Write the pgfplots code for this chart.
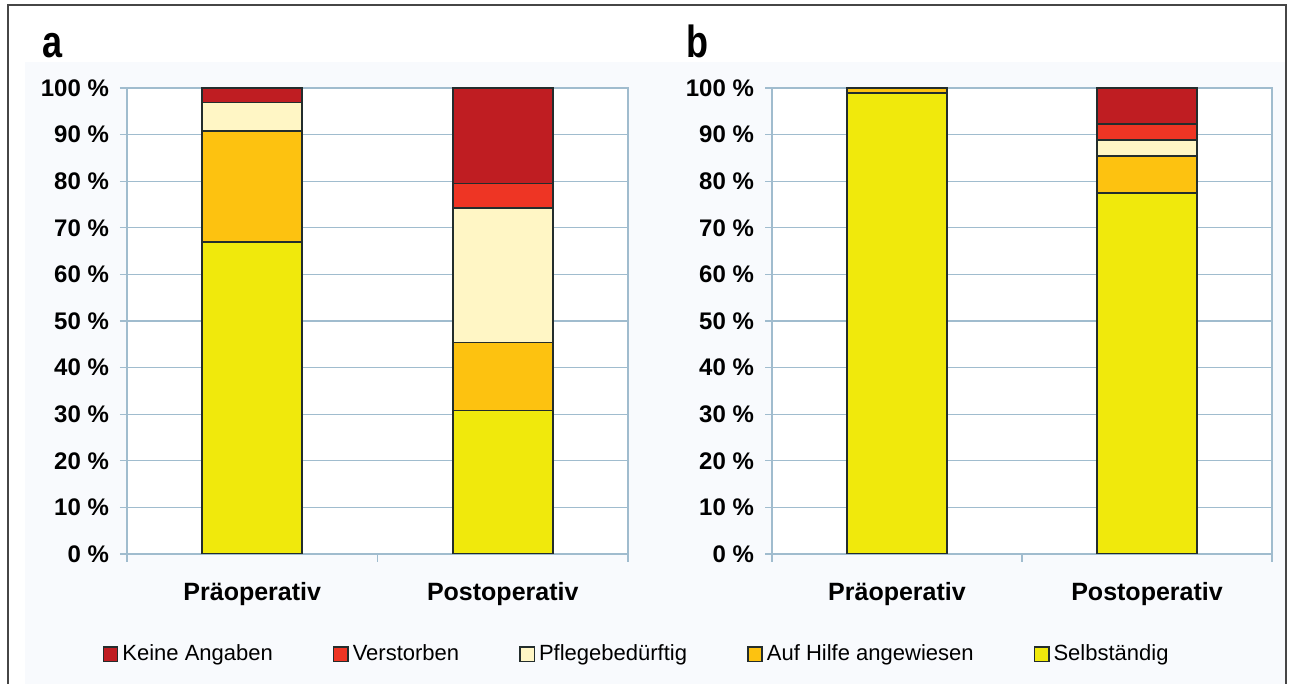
\documentclass[border=0pt]{standalone}
\usepackage{fontspec}
\setmainfont{Liberation Sans}
\usepackage{graphicx}
\usepackage{pgfplots}
\pgfplotsset{compat=1.18}
\definecolor{keine}{RGB}{191,29,34}
\definecolor{verst}{RGB}{238,53,36}
\definecolor{pflege}{RGB}{255,246,197}
\definecolor{auf}{RGB}{253,194,16}
\definecolor{selbst}{RGB}{240,233,12}
\definecolor{gridc}{RGB}{160,188,206}
\definecolor{edgec}{RGB}{35,45,45}
\definecolor{bgc}{RGB}{248,250,253}
\definecolor{framec}{RGB}{70,70,70}
\pgfplotsset{
  panel/.style={
    scale only axis,
    width=250.5pt, height=233pt,
    anchor=south west,
    ybar stacked,
    bar width=50pt,
    xmin=-0.5, xmax=1.5,
    ymin=0, ymax=100,
    xtick={0,1},
    xticklabels={Präoperativ,Postoperativ},
    minor xtick={-0.5,0.5,1.5},
    ytick={0,10,...,100},
    yticklabels={0 \%,10 \%,20 \%,30 \%,40 \%,50 \%,60 \%,70 \%,80 \%,90 \%,100 \%},
    xtick pos=lower, ytick pos=left,
    tick align=outside,
    major tick length=3.5pt,
    minor tick length=4pt,
    major x tick style={draw=none},
    minor x tick style={draw=gridc, line width=0.6pt},
    y tick style={draw=gridc, line width=0.6pt},
    ymajorgrids,
    grid style={draw=gridc, line width=0.6pt},
    axis line style={draw=gridc, line width=0.6pt},
    axis background/.style={fill=white},
    tick label style={font=\fontsize{12}{14}\selectfont\bfseries},
    xticklabel style={font=\fontsize{12.5}{14}\selectfont\bfseries, yshift=-7pt},
    yticklabel style={xshift=-2pt},
    every axis plot/.append style={draw=edgec, line width=0.9pt},
  },
}
\begin{document}
\begin{tikzpicture}
\useasboundingbox (0,0) rectangle (647pt,342pt);
\fill[bgc] (12.5pt,0) rectangle (642.5pt,311pt);
\draw[framec, line width=1pt] (4pt,0) -- (4pt,339.5pt) -- (643pt,339.5pt) -- (643pt,0);
\node[anchor=base west, inner sep=0] at (21pt,313pt) {\scalebox{0.8}[1]{\fontsize{22.5}{24}\selectfont\bfseries a}};
\node[anchor=base west, inner sep=0] at (343pt,313pt) {\scalebox{0.8}[1]{\fontsize{22.5}{24}\selectfont\bfseries b}};
\begin{axis}[panel, at={(63.5pt,65pt)},
  reverse legend,
  legend columns=5,
  legend style={at={(1.019,-0.215)}, anchor=center, draw=none, fill=none,
    font=\fontsize{11}{13}\selectfont,
    /tikz/every even column/.append style={column sep=28pt}},
  legend image code/.code={\draw[#1, draw=edgec, line width=0.75pt] (0pt,-3.6pt) rectangle (7.2pt,3.6pt);},
]
\addplot[fill=selbst] coordinates {(0,67.0) (1,30.8)};
\addplot[fill=auf] coordinates {(0,23.8) (1,14.6)};
\addplot[fill=pflege] coordinates {(0,6.1) (1,28.9)};
\addplot[fill=verst] coordinates {(0,0) (1,5.2)};
\addplot[fill=keine] coordinates {(0,3.1) (1,20.5)};
\legend{Selbständig,Auf Hilfe angewiesen,Pflegebedürftig,Verstorben,Keine Angaben}
\end{axis}
\begin{axis}[panel, at={(386pt,65pt)}, width=250pt]
\addplot[fill=selbst] coordinates {(0,98.9) (1,77.5)};
\addplot[fill=auf] coordinates {(0,1.1) (1,7.9)};
\addplot[fill=pflege] coordinates {(0,0) (1,3.4)};
\addplot[fill=verst] coordinates {(0,0) (1,3.5)};
\addplot[fill=keine] coordinates {(0,0) (1,7.7)};
\end{axis}
\end{tikzpicture}
\end{document}
